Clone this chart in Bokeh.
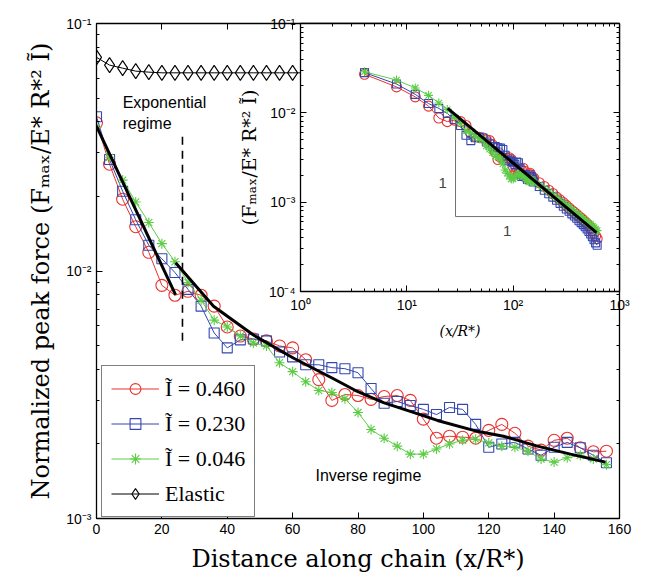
from bokeh.plotting import figure
from bokeh.models import (Range1d, LinearAxis, LogAxis, FixedTicker, Legend, LegendItem, Label, GridBox)
from bokeh.embed import file_html
from bokeh.resources import INLINE

# ---------------- data ----------------
dist = [0, 4, 8, 12, 16, 20, 24, 28, 32, 36, 40, 44, 48, 52, 56, 60, 64, 68, 72, 76,
        80, 84, 88, 92, 96, 100, 104, 108, 112, 116, 120, 124, 128, 132, 136, 140, 144, 148, 152, 156]

force_460 = [0.0397, 0.0270, 0.0195, 0.0151, 0.0119, 0.00875, 0.00798, 0.00828, 0.00798, 0.00721,
             0.00594, 0.00546, 0.00531, 0.00522, 0.00498, 0.00489, 0.00438, 0.00364, 0.00300, 0.00317,
             0.00314, 0.00303, 0.00311, 0.00314, 0.00300, 0.00252, 0.00211, 0.00215, 0.00213, 0.00211,
             0.00227, 0.00240, 0.00221, 0.00196, 0.00189, 0.00207, 0.00211, 0.00193, 0.00186, 0.00187]
force_230 = [0.0420, 0.0282, 0.0210, 0.0161, 0.0127, 0.0112, 0.00986, 0.00843, 0.00721, 0.00562,
             0.00489, 0.00527, 0.00531, 0.00522, 0.00471, 0.00450, 0.00418, 0.00418, 0.00407, 0.00403,
             0.00388, 0.00335, 0.00292, 0.00297, 0.00286, 0.00276, 0.00263, 0.00281, 0.00276, 0.00240,
             0.00194, 0.00200, 0.00203, 0.00191, 0.00180, 0.00194, 0.00203, 0.00193, 0.00180, 0.00168]
force_046 = [0.0380, 0.0288, 0.0233, 0.0190, 0.0157, 0.0129, 0.0109, 0.00899, 0.00762, 0.00633,
             0.00594, 0.00546, 0.00512, 0.00498, 0.00426, 0.00392, 0.00357, 0.00329, 0.00323, 0.00305,
             0.00268, 0.00229, 0.00211, 0.00196, 0.00182, 0.00182, 0.00191, 0.00200, 0.00207, 0.00209,
             0.00202, 0.00196, 0.00194, 0.00187, 0.00174, 0.00169, 0.00176, 0.00180, 0.00174, 0.00165]
force_elastic = [0.0730, 0.0679, 0.0660, 0.0642, 0.0636, 0.0632, 0.0632, 0.0632, 0.0632, 0.0632,
                 0.0632, 0.0632, 0.0632, 0.0632, 0.0632, 0.0632, 0.0632, 0.0632, 0.0632, 0.0632,
                 0.0632, 0.0632, 0.0632, 0.0632, 0.0632, 0.0632, 0.0632, 0.0632, 0.0632, 0.0632,
                 0.0632, 0.0632, 0.0632, 0.0632, 0.0632, 0.0632, 0.0632, 0.0632, 0.0632, 0.0632]

# longer chain (inset only, beyond the main x range)
dist_ext = [176, 196, 216, 236, 256, 276, 296, 316, 336, 356, 376, 396, 416, 436, 456, 476,
            496, 516, 536, 556, 576, 596, 616]
ext_460 = [0.00165, 0.00150, 0.00136, 0.00125, 0.00114, 0.00106, 0.00099, 0.00092, 0.00086, 0.00081,
           0.00077, 0.00073, 0.00069, 0.00066, 0.00063, 0.00060, 0.00057, 0.00054, 0.00051, 0.00048,
           0.00045, 0.00042, 0.00039]
ext_230 = [0.00150, 0.00136, 0.00124, 0.00114, 0.00105, 0.00097, 0.00090, 0.00084, 0.00079, 0.00074,
           0.00070, 0.00066, 0.00062, 0.00059, 0.00056, 0.00053, 0.00050, 0.00047, 0.00044, 0.00041,
           0.00038, 0.00035, 0.00033]
ext_046 = [0.00155, 0.00142, 0.00130, 0.00120, 0.00112, 0.00104, 0.00097, 0.00092, 0.00087, 0.00082,
           0.00078, 0.00074, 0.00071, 0.00068, 0.00065, 0.00062, 0.00060, 0.00058, 0.00056, 0.00054,
           0.00052, 0.00050, 0.00048]

exp_fit_x = [0, 24.2]
exp_fit_y = [0.0385, 0.0080]
inv_fit_x = [24.2, 35.8, 48.0, 60.2, 72.5, 79.8, 87.8, 96.0, 104.3, 116.5, 124.5, 134.9, 145.0, 155.7]
inv_fit_y = [0.0108, 0.0072, 0.00551, 0.00445, 0.00367, 0.00326, 0.00294, 0.00271, 0.00249, 0.00225,
             0.00215, 0.00196, 0.00182, 0.00169]
inset_fit_x = [24.2, 609]
inset_fit_y = [0.0112, 0.000457]
regime_x = [26.3, 26.3]
regime_y = [0.0349, 0.00507]
slope_x = [28.7, 28.7, 300]
slope_y = [0.0076, 0.00069, 0.00069]

legend_labels = ["Ĩ = 0.460", "Ĩ = 0.230", "Ĩ = 0.046", "Elastic"]
x_ticks = [0, 20, 40, 60, 80, 100, 120, 140, 160]
y_ticks = [0.001, 0.01, 0.1]
y_tick_labels = ["10⁻³", "10⁻²", "10⁻¹"]
inset_x_ticks = [1, 10, 100, 1000]
inset_x_labels = ["10⁰", "10¹", "10²", "10³"]
inset_y_ticks = [0.0001, 0.001, 0.01, 0.1]
inset_y_labels = ["10⁻⁴", "10⁻³", "10⁻²", "10⁻¹"]

RED, BLUE, GREEN = "#e8332f", "#3347b0", "#5ccc45"
SANS, SERIF, LSERIF = "Liberation Sans", "DejaVu Serif", "Liberation Serif"


def minor_log(lo, hi):
    out = []
    for e in range(lo, hi):
        for m in range(2, 10):
            out.append(m * 10.0 ** e)
    return out


def style_axis(ax, show_labels=True):
    ax.major_tick_in = 6
    ax.major_tick_out = 0
    ax.minor_tick_in = 3
    ax.minor_tick_out = 0
    ax.axis_line_color = "black"
    ax.axis_line_width = 1.3
    ax.major_tick_line_color = "black"
    ax.minor_tick_line_color = "black"
    ax.major_label_text_font = SANS
    ax.major_label_text_font_size = "14px"
    ax.major_label_text_color = "black"
    ax.axis_label_text_font = SERIF
    ax.axis_label_text_font_style = "normal"
    ax.axis_label_text_color = "black"
    if not show_labels:
        ax.major_label_standoff = 0
        ax.major_label_text_color = None


# ---------------- main figure ----------------
p = figure(width=646, height=584, x_range=Range1d(0, 160), y_range=Range1d(0.001, 0.1),
           y_axis_type="log", output_backend="svg", toolbar_location=None,
           min_border_left=96, min_border_right=27, min_border_top=19, min_border_bottom=66)
p.grid.visible = False
p.outline_line_color = "black"
p.background_fill_color = "white"
p.border_fill_color = "white"

p.xaxis.ticker = FixedTicker(ticks=x_ticks, minor_ticks=[])
p.yaxis.ticker = FixedTicker(ticks=y_ticks, minor_ticks=minor_log(-3, -1))
p.yaxis.major_label_overrides = dict(zip(y_ticks, y_tick_labels))
for ax in p.xaxis + p.yaxis:
    style_axis(ax)
p.xaxis.axis_label = "Distance along chain (x/R*)"
p.yaxis.axis_label = "Normalized peak force (Fₘₐₓ/E* R*² Ĩ)"
p.xaxis.axis_label_text_font_size = "24px"
p.yaxis.axis_label_text_font_size = "24px"
p.xaxis.axis_label_standoff = 8
p.yaxis.axis_label_standoff = 8

top_ax = LinearAxis(ticker=FixedTicker(ticks=x_ticks, minor_ticks=[]),
                    major_label_overrides={t: "" for t in x_ticks})
style_axis(top_ax, show_labels=False)
p.add_layout(top_ax, "above")
right_ax = LogAxis(ticker=FixedTicker(ticks=y_ticks, minor_ticks=minor_log(-3, -1)),
                   major_label_overrides={t: "" for t in y_ticks})
style_axis(right_ax, show_labels=False)
p.add_layout(right_ax, "right")

series = [(force_460, RED, "circle", 12), (force_230, BLUE, "square", 10),
          (force_046, GREEN, "asterisk", 10)]
items = []
for (vals, col, mk, sz), lab in zip(series, legend_labels[:3]):
    rl = p.line(dist, vals, line_color=col, line_width=1)
    rs = p.scatter(dist, vals, marker=mk, size=sz, line_color=col, fill_color=None, line_width=1.1)
    items.append(LegendItem(label=lab, renderers=[rl, rs]))
el_l = p.line(dist, force_elastic, line_color="black", line_width=1)
el_s = p.scatter(dist, force_elastic, marker="diamond", size=15, line_color="black",
                 fill_color=None, line_width=1.1)
items.append(LegendItem(label=legend_labels[3], renderers=[el_l, el_s]))

p.line(exp_fit_x, exp_fit_y, line_color="black", line_width=3)
p.line(inv_fit_x, inv_fit_y, line_color="black", line_width=3)
p.line(regime_x, regime_y, line_color="black", line_width=1.6, line_dash="8 6")

p.add_layout(Label(x=8, y=0.052, text="Exponential", text_baseline="top",
                   text_font=SANS, text_font_size="16px", text_color="black"))
p.add_layout(Label(x=8, y=0.0425, text="regime", text_baseline="top",
                   text_font=SANS, text_font_size="16px", text_color="black"))
p.add_layout(Label(x=67, y=0.00149, text="Inverse regime", text_baseline="middle",
                   text_font=SANS, text_font_size="16px", text_color="black"))

legend = Legend(items=items, location=(5, 1), label_text_font=LSERIF, label_text_font_size="22px",
                label_text_color="black",
                glyph_width=48, glyph_height=27, label_height=27, spacing=8, padding=9,
                label_standoff=6, margin=0, border_line_color="black", border_line_width=1.5,
                background_fill_color="white", background_fill_alpha=1.0)
p.add_layout(legend)

# ---------------- inset ----------------
ins = figure(width=420, height=346, x_axis_type="log", y_axis_type="log",
             x_range=Range1d(1, 1000), y_range=Range1d(0.0001, 0.1),
             output_backend="svg", toolbar_location=None,
             min_border_left=74, min_border_right=25, min_border_top=23, min_border_bottom=55)
ins.grid.visible = False
ins.border_fill_color = None
ins.background_fill_color = "white"
ins.outline_line_color = "black"
ins.xaxis.ticker = FixedTicker(ticks=inset_x_ticks, minor_ticks=minor_log(0, 3))
ins.yaxis.ticker = FixedTicker(ticks=inset_y_ticks, minor_ticks=minor_log(-4, -1))
ins.xaxis.major_label_overrides = dict(zip(inset_x_ticks, inset_x_labels))
ins.yaxis.major_label_overrides = dict(zip(inset_y_ticks, inset_y_labels))
for ax in ins.xaxis + ins.yaxis:
    style_axis(ax)
ins.xaxis.axis_label = "(x/R*)"
ins.xaxis.axis_label_text_font_style = "italic"
ins.xaxis.axis_label_text_font_size = "14px"
ins.xaxis.axis_label_standoff = 7
ins.yaxis.axis_label = "(Fₘₐₓ/E* R*² Ĩ)"
ins.yaxis.axis_label_text_font_size = "19px"
ins.yaxis.axis_label_standoff = 6
it = LogAxis(ticker=FixedTicker(ticks=inset_x_ticks, minor_ticks=minor_log(0, 3)),
             major_label_overrides={t: "" for t in inset_x_ticks})
style_axis(it, show_labels=False)
ins.add_layout(it, "above")
ir = LogAxis(ticker=FixedTicker(ticks=inset_y_ticks, minor_ticks=minor_log(-4, -1)),
             major_label_overrides={t: "" for t in inset_y_ticks})
style_axis(ir, show_labels=False)
ins.add_layout(ir, "right")

ins_x = dist[1:] + dist_ext
for vals, ext, col, mk, sz in [(force_460, ext_460, RED, "circle", 10),
                               (force_230, ext_230, BLUE, "square", 8),
                               (force_046, ext_046, GREEN, "asterisk", 9)]:
    yv = vals[1:] + ext
    ins.line(ins_x, yv, line_color=col, line_width=1)
    ins.scatter(ins_x, yv, marker=mk, size=sz, line_color=col, fill_color=None, line_width=1.1)
ins.line(inset_fit_x, inset_fit_y, line_color="black", line_width=3)
ins.line(slope_x, slope_y, line_color="#707070", line_width=1)
ins.add_layout(Label(x=21.7, y=0.00166, text="1", text_font=SANS, text_font_size="15px",
                     text_align="center", text_baseline="middle"))
ins.add_layout(Label(x=88, y=0.00048, text="1", text_font=SANS, text_font_size="15px",
                     text_align="center", text_baseline="middle"))

root = GridBox(children=[(p, 0, 0, 2, 2), (ins, 0, 1, 1, 1)], rows=["346px", "238px"],
               cols=["226px", "420px"], spacing=0)
open("out.html", "w").write(file_html(root, INLINE))
